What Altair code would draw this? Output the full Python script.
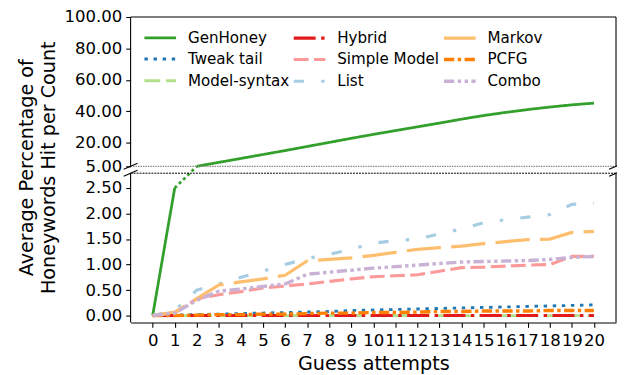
import altair as alt
import pandas as pd

# ---------------- data ----------------
x_vals = [0, 1, 2, 3, 4, 5, 6, 7, 8, 9, 10, 11, 12, 13, 14, 15, 16, 17, 18, 19, 20]

methods = ["GenHoney", "Tweak tail", "Model-syntax", "Hybrid", "Simple Model",
           "List", "Markov", "PCFG", "Combo"]

genhoney = [0.0, 2.5, 5.0, 7.5, 10.0, 12.5, 15.0, 17.6, 20.2, 22.8, 25.3,
            27.7, 30.1, 32.5, 35.0, 37.3, 39.3, 41.1, 42.7, 44.1, 45.2]
tweak_tail = [0.0, 0.01, 0.02, 0.03, 0.04, 0.05, 0.06, 0.07, 0.08, 0.10, 0.11,
              0.12, 0.13, 0.14, 0.15, 0.16, 0.17, 0.18, 0.19, 0.20, 0.21]
model_syntax = [0.0, 0.0, 0.0, 0.0, 0.0, 0.0, 0.0, 0.0, 0.0, 0.0, 0.0,
                0.0, 0.0, 0.0, 0.0, 0.0, 0.0, 0.0, 0.0, 0.0, 0.0]
hybrid = [0.0, 0.0, 0.0, 0.0, 0.0, 0.0, 0.0, 0.0, 0.0, 0.0, 0.0,
          0.0, 0.0, 0.0, 0.0, 0.0, 0.0, 0.0, 0.0, 0.0, 0.0]
simple_model = [0.0, 0.05, 0.33, 0.41, 0.47, 0.54, 0.58, 0.62, 0.67, 0.72, 0.76,
                0.78, 0.80, 0.87, 0.94, 0.95, 0.97, 0.99, 1.00, 1.16, 1.16]
list_vals = [0.0, 0.10, 0.50, 0.62, 0.75, 0.87, 1.00, 1.12, 1.20, 1.30, 1.42,
             1.47, 1.50, 1.60, 1.70, 1.82, 1.88, 1.93, 1.98, 2.18, 2.20]
markov = [0.0, 0.07, 0.33, 0.60, 0.66, 0.72, 0.79, 1.07, 1.10, 1.13, 1.18,
          1.24, 1.30, 1.33, 1.36, 1.41, 1.45, 1.49, 1.50, 1.63, 1.65]
pcfg = [0.0, 0.0, 0.01, 0.02, 0.02, 0.03, 0.03, 0.04, 0.05, 0.05, 0.06,
        0.06, 0.07, 0.08, 0.08, 0.09, 0.09, 0.09, 0.10, 0.10, 0.10]
combo = [0.0, 0.05, 0.30, 0.48, 0.52, 0.57, 0.62, 0.81, 0.85, 0.89, 0.93,
         0.96, 0.99, 1.02, 1.05, 1.06, 1.07, 1.08, 1.10, 1.14, 1.16]

series = {
    "GenHoney": genhoney, "Tweak tail": tweak_tail, "Model-syntax": model_syntax,
    "Hybrid": hybrid, "Simple Model": simple_model, "List": list_vals,
    "Markov": markov, "PCFG": pcfg, "Combo": combo,
}

colors = {
    "GenHoney": "#33a02c", "Tweak tail": "#1f78b4", "Model-syntax": "#b2df8a",
    "Hybrid": "#e31a1c", "Simple Model": "#fb9a99", "List": "#a6cee3",
    "Markov": "#fdbf6f", "PCFG": "#ff7f00", "Combo": "#cab2d6",
}
dashes = {
    "GenHoney": [1, 0],
    "Tweak tail": [3.47, 5.73],
    "Model-syntax": [16, 6],
    "Hybrid": [22.2, 5.55, 3.47, 5.55],
    "Simple Model": [15, 5.5],
    "List": [10.4, 17.4, 3.47, 17.4],
    "Markov": [34.7, 10.4],
    "PCFG": [10.4, 3.47, 3.47, 3.47],
    "Combo": [10.4, 3.47, 3.47, 3.47, 3.47, 3.47],
}
widths = {m: 3.47 for m in methods}
widths["GenHoney"] = 2.8

y_ticks = [0, 0.5, 1.0, 1.5, 2.0, 2.5, 5, 20, 40, 60, 80, 100]

rows = []
for m in methods:
    for xv, yv in zip(x_vals, series[m]):
        if m == "GenHoney":
            part = "low" if xv <= 1 else "high"
        else:
            part = "all"
        rows.append({"x": xv, "y": yv, "method": m, "part": part})
df = pd.DataFrame(rows)

conn = pd.DataFrame({"x": x_vals[1:3], "y": genhoney[1:3]})

# ---------------- layout ----------------
W, H = 491, 309
Y_TOP_END = 151   # bottom of upper panel (value 5)
Y_BOT_START = 158  # top of lower panel

x_scale = alt.Scale(domain=[-1, 21], nice=False, zero=False)
y_scale = alt.Scale(domain=[-0.135, 2.79, 5, 100], range=[H, Y_BOT_START, Y_TOP_END, 0],
                    nice=False, zero=False)

lines = alt.Chart(df).mark_line().encode(
    x=alt.X("x:Q", scale=x_scale,
            axis=alt.Axis(values=x_vals, tickCount=100, format="d", title="Guess attempts",
                          grid=False, labelOverlap=False, labelFlush=False, tickSize=4.9,
                          tickWidth=1.1, tickColor="black", domainColor="black",
                          domainWidth=1.1, labelFontSize=16.7, labelPadding=5,
                          labelColor="black", titleFontSize=19.4, titleFontWeight="normal",
                          titleColor="black", titlePadding=6)),
    y=alt.Y("y:Q", scale=y_scale,
            axis=alt.Axis(values=y_ticks, tickCount=100, format=".2f", grid=False, domain=False,
                          labelOverlap=False, labelFlush=False, tickSize=4.9, tickWidth=1.1,
                          tickColor="black", labelFontSize=16.7, labelPadding=4,
                          labelColor="black",
                          title=["Average Percentage of", "Honeywords Hit per Count"],
                          titleFontSize=19.4, titleFontWeight="normal", titleColor="black",
                          titleLineHeight=22, titlePadding=6, titleY=152)),
    color=alt.Color("method:N", scale=alt.Scale(domain=methods,
                                                range=[colors[m] for m in methods]),
                    legend=alt.Legend(title=None)),
    strokeDash=alt.StrokeDash("method:N", scale=alt.Scale(domain=methods,
                                                          range=[dashes[m] for m in methods]),
                              legend=alt.Legend(title=None)),
    strokeWidth=alt.StrokeWidth("method:N", scale=alt.Scale(domain=methods,
                                                            range=[widths[m] for m in methods]),
                                legend=None),
    detail="part:N",
)

connector = alt.Chart(conn).mark_line(color=colors["GenHoney"], strokeWidth=2.8,
                                      strokeDash=[3, 3]).encode(x="x:Q", y="y:Q")

one = alt.Data(values=[{}])


def rule(x, y, x2=None, y2=None, color="black", width=1.1, dash=None):
    kw = dict(color=color, strokeWidth=width)
    if dash is not None:
        kw["strokeDash"] = dash
    enc = dict(x=alt.value(x), y=alt.value(y))
    if x2 is not None:
        enc["x2"] = alt.value(x2)
    if y2 is not None:
        enc["y2"] = alt.value(y2)
    return alt.Chart(one).mark_rule(clip=False, **kw).encode(**enc)


deco = [
    rule(0, 0, x2=W, y2=0),                      # top spine
    rule(0, 0, x2=0, y2=Y_TOP_END),              # left spine upper
    rule(W, 0, x2=W, y2=Y_TOP_END),              # right spine upper
    rule(0, Y_BOT_START, x2=0, y2=H),            # left spine lower
    rule(W, Y_BOT_START, x2=W, y2=H),            # right spine lower
    rule(0, Y_TOP_END, x2=W, y2=Y_TOP_END, color="#8a8a8a", width=1.2, dash=[1.5, 1]),
    rule(0, Y_BOT_START, x2=W, y2=Y_BOT_START, color="black", width=1, dash=[2, 1]),
    rule(-7, Y_TOP_END + 3, x2=7, y2=Y_TOP_END - 3),
    rule(-7, Y_BOT_START + 3, x2=7, y2=Y_BOT_START - 3),
    rule(W - 7, Y_TOP_END + 3, x2=W + 7, y2=Y_TOP_END - 3),
    rule(W - 7, Y_BOT_START + 3, x2=W + 7, y2=Y_BOT_START - 3),
]

chart = alt.layer(lines, connector, *deco).properties(
    width=W, height=H,
    autosize=alt.AutoSizeParams(type="none"),
    padding={"left": 124, "top": 7, "right": 1, "bottom": 52},
).configure(
    font="DejaVu Sans",
).configure_view(
    stroke=None,
).configure_legend(
    orient="none", legendX=20, legendY=11, columns=3, columnPadding=-3, rowPadding=3,
    labelFontSize=15.3, labelColor="black", symbolSize=256, symbolStrokeWidth=3.47,
    symbolType="M-2,0H2", labelOffset=18, padding=0, labelLimit=300,
)

chart.save("out.html", embed_options={"renderer": "svg", "actions": False})
